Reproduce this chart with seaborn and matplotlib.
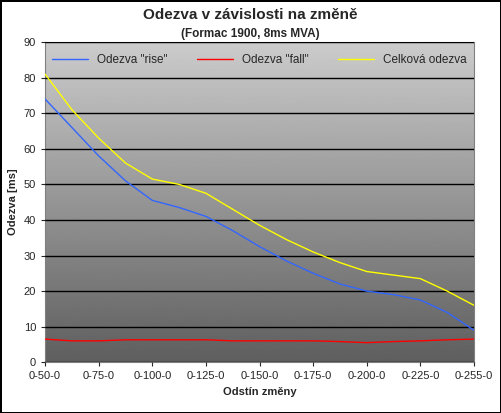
import numpy as np
import pandas as pd
import matplotlib
matplotlib.use("Agg")
import matplotlib.pyplot as plt
import seaborn as sns

categories = ["0-50-0", "0-62-0", "0-75-0", "0-87-0", "0-100-0", "0-112-0", "0-125-0", "0-137-0",
              "0-150-0", "0-162-0", "0-175-0", "0-187-0", "0-200-0", "0-212-0", "0-225-0", "0-240-0", "0-255-0"]
rise = [74, 66, 58, 51, 45.5, 43.5, 41, 37, 32.5, 28.5, 25, 22, 20, 19, 17.5, 14, 9]
fall = [6.5, 6, 6, 6.3, 6.3, 6.3, 6.3, 6, 6, 6, 6, 5.8, 5.5, 5.8, 6, 6.3, 6.5]
total = [81, 71, 63, 56, 51.5, 50, 47.5, 43, 38.5, 34.5, 31, 28, 25.5, 24.5, 23.5, 20, 16]

sns.set_style("white")
plt.rcParams['font.family'] = ['Liberation Sans', 'DejaVu Sans']

df = pd.DataFrame({"x": np.arange(len(categories)), 'Odezva "rise"': rise,
                   'Odezva "fall"': fall, "Celková odezva": total})
long = df.melt("x", var_name="serie", value_name="y")

fig = plt.figure(figsize=(5.01, 4.13), dpi=100)
fig.patch.set_edgecolor("black")
fig.patch.set_linewidth(2)
ax = fig.add_axes([0.09, 0.123, 0.856, 0.775])

grad = np.linspace(0.8, 0.37, 256).reshape(-1, 1)
ax.imshow(grad, cmap="gray", vmin=0, vmax=1, aspect="auto",
          extent=[0, len(categories) - 1, 0, 90], zorder=0)

sns.lineplot(data=long, x="x", y="y", hue="serie", ax=ax, linewidth=1,
             palette=["#3366ff", "#ff0000", "#ffff00"], zorder=3)

ax.set_xlim(0, len(categories) - 1)
ax.set_ylim(0, 90)
ax.set_yticks(range(0, 91, 10))
ax.set_xticks(range(0, len(categories), 2))
ax.set_xticklabels(categories[::2], fontsize=8)
ax.tick_params(axis="y", labelsize=8, length=3, direction="out", left=True)
ax.tick_params(axis="x", length=3, direction="out", bottom=True)
ax.grid(axis="y", color="black", linewidth=1, zorder=1)
ax.set_axisbelow(False)
for s in ax.spines.values():
    s.set_color("#808080")
ax.set_xlabel("Odstín změny", fontsize=8, fontweight="bold")
ax.set_ylabel("Odezva [ms]", fontsize=8, fontweight="bold")
fig.text(0.5, 0.955, "Odezva v závislosti na změně", ha="center", fontsize=11, fontweight="bold")
fig.text(0.5, 0.91, "(Formac 1900, 8ms MVA)", ha="center", fontsize=8.5, fontweight="bold")
ax.legend(loc="upper center", ncol=3, frameon=False, fontsize=8.5, title=None,
          handlelength=3, columnspacing=2.5, borderaxespad=0.6)

fig.savefig("out.png", dpi=100)
